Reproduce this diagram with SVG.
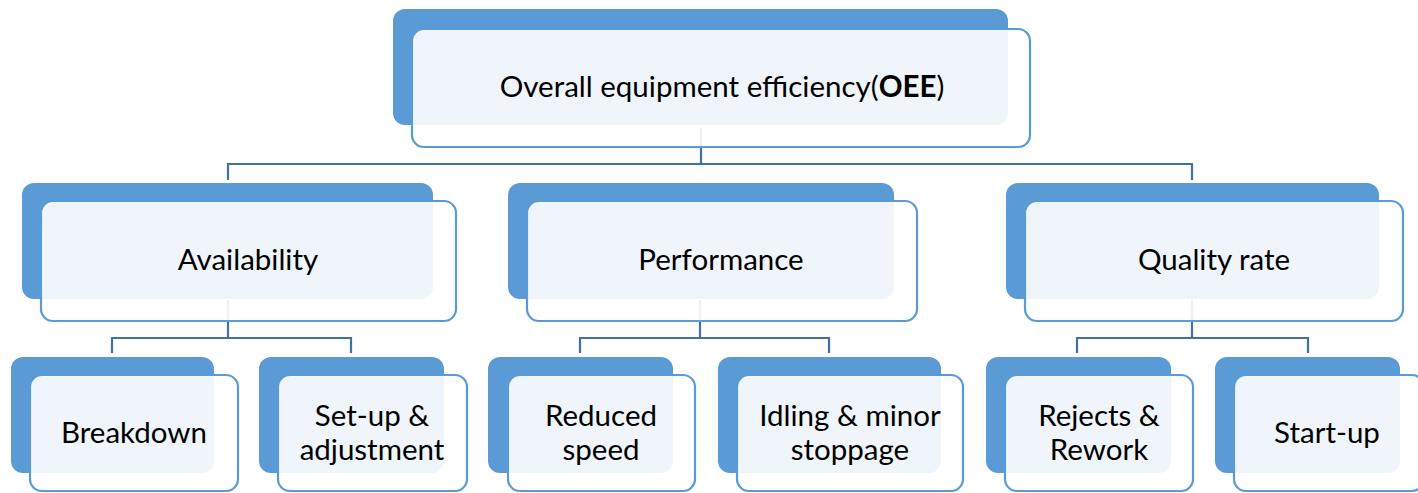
<svg xmlns="http://www.w3.org/2000/svg" width="1418" height="493" viewBox="0 0 1418 493">
  <style>
    .back { fill: #5B9BD5; }
    .front { fill: #FFFFFF; fill-opacity: 0.9; stroke: #5B9BD5; stroke-width: 2.2; }
    .link { fill: none; stroke: #41719C; stroke-width: 2.2; }
    text { font-family: Lato, "Liberation Sans", sans-serif; font-size: 29.5px; fill: #000000; text-anchor: middle; }
  </style>
  <rect width="1418" height="493" fill="#FFFFFF"/>

  <!-- tree connectors, drawn beneath the boxes -->
  <g id="connectors">
    <path class="link" d="M701 128 V164 M228 180 V164 H1192 V180"/>
    <path class="link" d="M228 300 V338 M112 353 V338 H351 V353"/>
    <path class="link" d="M700 300 V338 M580 353 V338 H829 V353"/>
    <path class="link" d="M1192 300 V338 M1077 353 V338 H1308 V353"/>
  </g>

  <g id="oee">
    <rect class="back" x="393" y="9" width="615" height="116" rx="12"/>
    <rect class="front" x="412" y="29" width="618" height="118" rx="12"/>
    <text x="722" y="97">Overall equipment efficiency(<tspan font-weight="bold">OEE</tspan>)</text>
  </g>

  <g id="availability">
    <rect class="back" x="22" y="183" width="411" height="116" rx="12"/>
    <rect class="front" x="41" y="201" width="415" height="120" rx="12"/>
    <text x="248" y="270">Availability</text>
  </g>

  <g id="performance">
    <rect class="back" x="508" y="183" width="386" height="116" rx="12"/>
    <rect class="front" x="527" y="201" width="390" height="120" rx="12"/>
    <text x="721" y="270">Performance</text>
  </g>

  <g id="quality">
    <rect class="back" x="1006" y="183" width="373" height="116" rx="12"/>
    <rect class="front" x="1025" y="201" width="378" height="120" rx="12"/>
    <text x="1214" y="270">Quality rate</text>
  </g>

  <g id="breakdown">
    <rect class="back" x="11" y="357" width="203" height="116" rx="12"/>
    <rect class="front" x="30" y="375" width="208" height="116" rx="12"/>
    <text x="134" y="443">Breakdown</text>
  </g>

  <g id="setup">
    <rect class="back" x="259" y="357" width="185" height="116" rx="12"/>
    <rect class="front" x="278" y="375" width="189" height="116" rx="12"/>
    <text x="372" y="426">Set-up &amp;</text>
    <text x="372" y="460">adjustment</text>
  </g>

  <g id="reduced-speed">
    <rect class="back" x="488" y="357" width="185" height="116" rx="12"/>
    <rect class="front" x="508" y="375" width="187" height="116" rx="12"/>
    <text x="601" y="426">Reduced</text>
    <text x="601" y="460">speed</text>
  </g>

  <g id="idling">
    <rect class="back" x="718" y="357" width="223" height="116" rx="12"/>
    <rect class="front" x="737" y="375" width="226" height="116" rx="12"/>
    <text x="850" y="426">Idling &amp; minor</text>
    <text x="850" y="460">stoppage</text>
  </g>

  <g id="rejects">
    <rect class="back" x="986" y="357" width="185" height="116" rx="12"/>
    <rect class="front" x="1005" y="375" width="188" height="116" rx="12"/>
    <text x="1099" y="426">Rejects &amp;</text>
    <text x="1099" y="460">Rework</text>
  </g>

  <g id="startup">
    <rect class="back" x="1215" y="357" width="185" height="116" rx="12"/>
    <rect class="front" x="1234" y="375" width="190" height="116" rx="12"/>
    <text x="1327" y="443">Start-up</text>
  </g>
</svg>
